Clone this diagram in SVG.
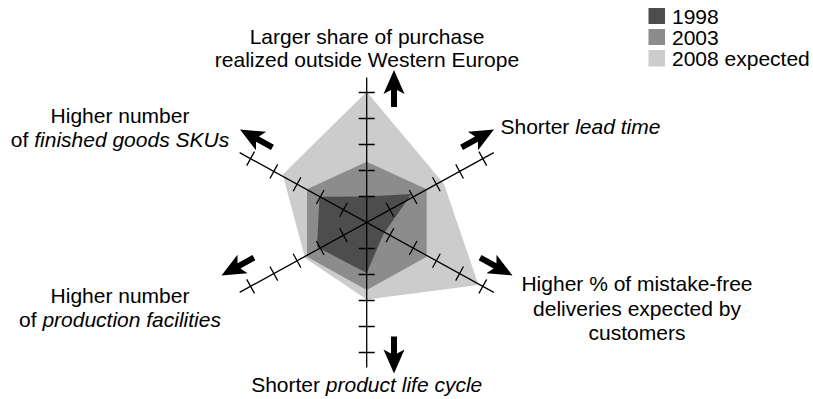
<svg xmlns="http://www.w3.org/2000/svg" width="813" height="399" viewBox="0 0 813 399">
  <style>
    text { font-family: "Liberation Sans", Arial, Helvetica, sans-serif; font-size: 21px; fill: #000; }
    .it { font-style: italic; }
    .mid { text-anchor: middle; }
    .axis { fill: none; stroke: #000; stroke-width: 1.3; }
    .s1998 { fill: #4d4d4d; }
    .s2003 { fill: #8c8c8c; }
    .s2008 { fill: #cccccc; }
    .arrow { fill: #000; }
  </style>
  <defs>
    <path id="blockArrow" d="M0,0 L10.5,24 L3,20 L3,37 L-3,37 L-3,20 L-10.5,24 Z"/>
    <path id="axisV" d="M-145,0 H145 M26,-8 V8 M52,-8 V8 M78,-8 V8 M104,-8 V8 M130,-8 V8 M-26,-8 V8 M-52,-8 V8 M-78,-8 V8 M-104,-8 V8 M-130,-8 V8"/>
    <path id="axisD" d="M-145,0 H145 M26.5,-8 V8 M53,-8 V8 M79.5,-8 V8 M106,-8 V8 M132.5,-8 V8 M-26.5,-8 V8 M-53,-8 V8 M-79.5,-8 V8 M-106,-8 V8 M-132.5,-8 V8"/>
  </defs>

  <g id="series">
    <polygon id="series-2008" class="s2008" points="366.7,91.7 444,184 478.5,285 366.7,299.5 305,258 282.7,174.5"/>
    <polygon id="series-2003" class="s2003" points="366.7,161.7 426.7,189.3 426.7,256.7 366.7,290 307,256.7 307,189.3"/>
    <polygon id="series-1998" class="s1998" points="319.5,196.7 366.7,196.5 411.5,194 383.5,234 366.7,273 317,247"/>
  </g>

  <g id="axes" class="axis">
    <use href="#axisV" transform="translate(366.7,222.5) rotate(90)"/>
    <use href="#axisD" transform="translate(366.7,222.5) rotate(-28.8)"/>
    <use href="#axisD" transform="translate(366.7,222.5) rotate(28.8)"/>
  </g>

  <g id="connectors" class="arrow">
    <use href="#blockArrow" transform="translate(394,70)"/>
    <use href="#blockArrow" transform="translate(394,373.5) rotate(180)"/>
    <use href="#blockArrow" transform="translate(494,129.5) rotate(61.2)"/>
    <use href="#blockArrow" transform="translate(240,129.5) rotate(-61.2)"/>
    <use href="#blockArrow" transform="translate(512.5,275.5) rotate(118.8)"/>
    <use href="#blockArrow" transform="translate(221.5,275.5) rotate(-118.8)"/>
  </g>

  <g id="label-top">
    <text class="mid" x="367" y="43.5">Larger share of purchase</text>
    <text class="mid" x="367" y="67">realized outside Western Europe</text>
  </g>
  <g id="label-upper-right">
    <text x="500.5" y="134">Shorter <tspan class="it">lead time</tspan></text>
  </g>
  <g id="label-lower-right">
    <text class="mid" x="637" y="291">Higher % of mistake-free</text>
    <text class="mid" x="637" y="315.5">deliveries expected by</text>
    <text class="mid" x="637" y="340">customers</text>
  </g>
  <g id="label-bottom">
    <text class="mid" x="366.7" y="392">Shorter <tspan class="it">product life cycle</tspan></text>
  </g>
  <g id="label-lower-left">
    <text class="mid" x="120" y="302.5">Higher number</text>
    <text class="mid" x="120" y="326.5">of <tspan class="it">production facilities</tspan></text>
  </g>
  <g id="label-upper-left">
    <text class="mid" x="120" y="122.5">Higher number</text>
    <text class="mid" x="120" y="146.5">of <tspan class="it">finished goods SKUs</tspan></text>
  </g>

  <g id="legend">
    <rect class="s1998" x="648.5" y="8" width="16.5" height="16"/>
    <rect class="s2003" x="648.5" y="29" width="16.5" height="16"/>
    <rect class="s2008" x="648.5" y="50" width="16.5" height="16.5"/>
    <text x="672" y="24">1998</text>
    <text x="672" y="45">2003</text>
    <text x="672" y="66">2008 expected</text>
  </g>
</svg>
